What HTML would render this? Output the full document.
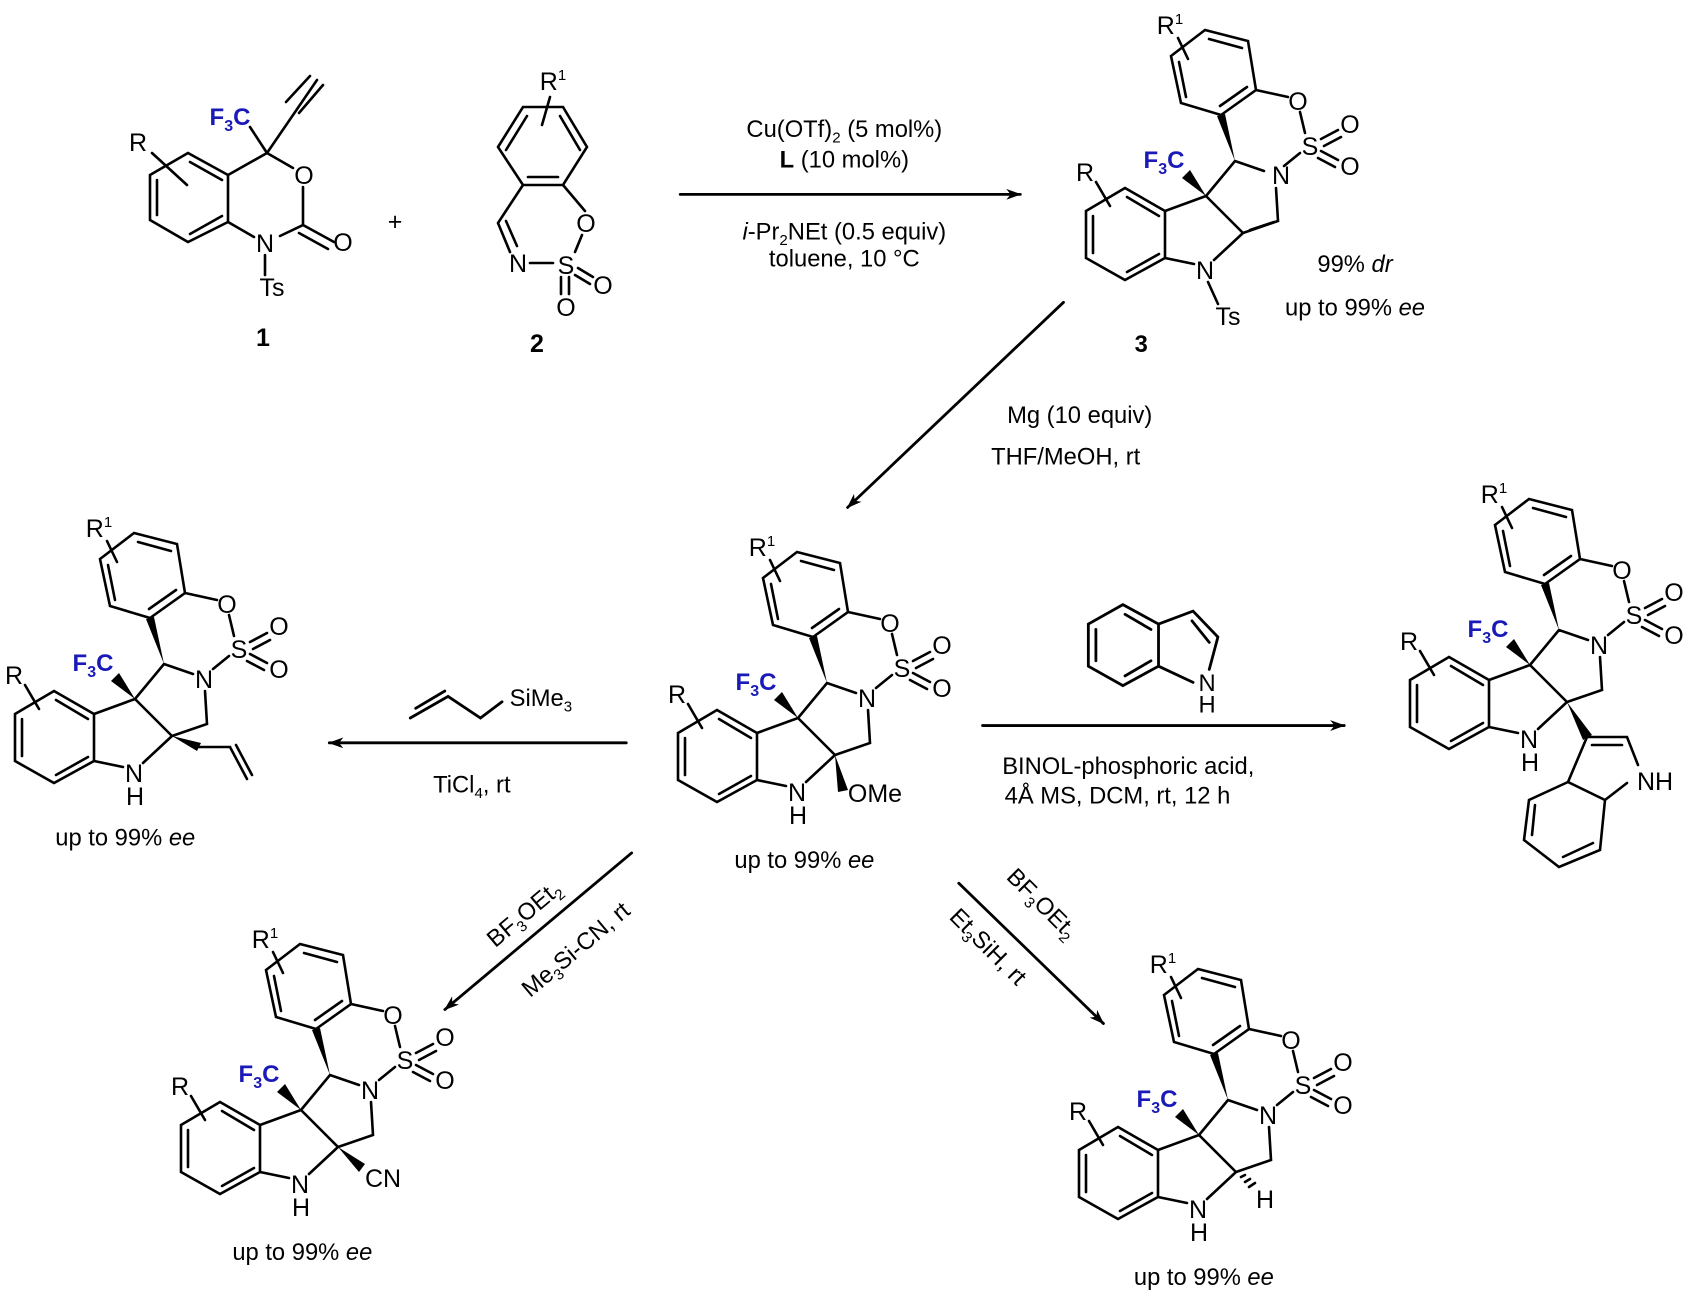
<!DOCTYPE html>
<html><head><meta charset="utf-8"><style>
html,body{margin:0;padding:0;background:#fff;}
svg{display:block;font-family:"Liberation Sans",Arial,sans-serif;}
.b{stroke:#000;stroke-width:2.6;fill:none;stroke-linecap:round;}
.l{font-size:25px;fill:#000;text-anchor:middle;}
.f{font-size:24px;fill:#1a1ab8;font-weight:bold;text-anchor:middle;}
.t{font-size:22px;fill:#000;text-anchor:middle;}
</style></head><body>
<svg width="1693" height="1301" viewBox="0 0 1693 1301" xmlns="http://www.w3.org/2000/svg">
<defs>
<marker id="ah" markerWidth="14" markerHeight="10" refX="13" refY="5" orient="auto" markerUnits="userSpaceOnUse">
<path d="M0,0 L14,5 L0,10 L4,5 Z" fill="#000"/></marker>
<g id="core">
<path class="b" d="M-81,-8 L-41,15 L-41,62 L-81,84 L-120,62 L-120,15 Z"/>
<path class="b" d="M-79,1 L-47,20 M-113,20 L-113,57 M-79,76 L-47,58"/>
<path class="b" d="M0,0 L-41,15 M-41,62 L-12,68 M8,64 L37,37 M0,0 L37,37 M37,37 L72,25 L70,-8 M58,-25 L29,-35 L0,0"/>
<polygon points="29,-35 11,-80 19,-82" fill="#000"/>
<path class="b" d="M-1,-166 L42,-155 L50,-106 L15,-81 L-25,-93 L-35,-140 Z"/>
<path class="b" d="M3,-157 L36,-148 M-27,-134 L-20,-99 M14,-90 L41,-109"/>
<path class="b" d="M50,-106 L82,-99 M94,-84 L99,-63 M94,-43 L78,-30 M115,-57 L132,-66 M118,-50 L135,-59 M115,-45 L132,-36 M112,-38 L129,-29"/>
<polygon points="0,0 -24,-18 -16,-26" fill="#000"/>
<path class="b" d="M-110,-14 L-96,10 M-28,-158 L-18,-137"/>
</g>
</defs>

<!-- compound 1 -->
<g>
<path class="b" d="M188,153 L228,175 L228,222 L188,242 L150,220 L150,175 Z M190,162 L222,180 M157,180 L157,215 M190,234 L222,216"/>
<path class="b" d="M267,153 L228,175 M267,153 L250,127 M267,153 L293,168 M303,187 L303,225 L280,236 M228,222 L254,237 M303,225 L334,242 M299,233 L328,249 M265,255 L265,275 M267,153 L317,80 M299,113 L323,85 M286,102 L310,76 M152,153 L187,185"/>
<text class="f" x="230" y="125">F<tspan font-size="16" dy="6">3</tspan><tspan dy="-6">C</tspan></text>
<text class="l" x="138" y="151">R</text>
<text class="l" x="304" y="184">O</text>
<text class="l" x="343" y="251">O</text>
<text class="l" x="265" y="252">N</text>
<text class="l" x="272" y="296">Ts</text>
<text class="l" x="263" y="346" font-weight="bold">1</text>
<text class="l" x="395" y="230">+</text>
</g>
<!-- compound 2 -->
<g>
<path class="b" d="M523,107 L563,107 L587,147 L563,185 L523,185 L498,147 Z M527,116 L506,150 M560,116 L580,150 M528,177 L558,177 M550,97 L542,125"/>
<path class="b" d="M523,185 L498,223 L510,252 M506,221 L517,246 M530,263 L553,263 M575,252 L582,235 M585,211 L563,185 M578,268 L593,277 M575,275 L590,284 M561,277 L561,294 M569,277 L569,294"/>
<text class="l" x="553" y="90">R<tspan font-size="15" dy="-10">1</tspan></text>
<text class="l" x="586" y="232">O</text>
<text class="l" x="518" y="272">N</text>
<text class="l" x="566" y="274">S</text>
<text class="l" x="603" y="294">O</text>
<text class="l" x="566" y="316">O</text>
<text class="l" x="537" y="352" font-weight="bold">2</text>
</g>

<!-- arrows and reagents (displayed coords scaled) -->
<g transform="scale(1.0797)">
<line class="b" x1="630" y1="180" x2="945" y2="180" marker-end="url(#ah)" stroke-width="2.2"/>
<line class="b" x1="985" y1="280" x2="785" y2="470" marker-end="url(#ah)" stroke-width="2.2"/>
<line class="b" x1="580" y1="688" x2="305" y2="688" marker-end="url(#ah)" stroke-width="2.2"/>
<line class="b" x1="910" y1="672" x2="1245" y2="672" marker-end="url(#ah)" stroke-width="2.2"/>
<line class="b" x1="585" y1="790" x2="412" y2="935" marker-end="url(#ah)" stroke-width="2.2"/>
<line class="b" x1="888" y1="818" x2="1022" y2="948" marker-end="url(#ah)" stroke-width="2.2"/>
<text class="t" x="782" y="127">Cu(OTf)<tspan font-size="14" dy="5">2</tspan><tspan dy="-5"> (5 mol%)</tspan></text>
<text class="t" x="782" y="155"><tspan font-weight="bold">L</tspan> (10 mol%)</text>
<text class="t" x="782" y="222"><tspan font-style="italic">i</tspan>-Pr<tspan font-size="14" dy="5">2</tspan><tspan dy="-5">NEt (0.5 equiv)</tspan></text>
<text class="t" x="782" y="247">toluene, 10 °C</text>
<text class="t" x="1255" y="252">99% <tspan font-style="italic">dr</tspan></text>
<text class="t" x="1255" y="292">up to 99% <tspan font-style="italic">ee</tspan></text>
<text class="t" x="1057" y="326" font-weight="bold">3</text>
<text class="t" x="1000" y="392">Mg (10 equiv)</text>
<text class="t" x="987" y="430">THF/MeOH, rt</text>
<text class="t" x="501" y="654">SiMe<tspan font-size="14" dy="5">3</tspan></text>
<path class="b" d="M380,665 L415,645 L445,665 L465,650 M385,656 L412,640" stroke-width="2.2"/>
<text class="t" x="437" y="734">TiCl<tspan font-size="14" dy="5">4</tspan><tspan dy="-5">, rt</tspan></text>
<text class="t" x="116" y="783">up to 99% <tspan font-style="italic">ee</tspan></text>
<text class="t" x="745" y="804">up to 99% <tspan font-style="italic">ee</tspan></text>
<text class="t" x="280" y="1167">up to 99% <tspan font-style="italic">ee</tspan></text>
<text class="t" x="1115" y="1190">up to 99% <tspan font-style="italic">ee</tspan></text>
<text class="t" x="1045" y="717">BINOL-phosphoric acid,</text>
<text class="t" x="1035" y="744">4Å MS, DCM, rt, 12 h</text>
<path class="b" d="M1040,560 L1073,578 L1073,617 L1040,635 L1008,617 L1008,578 Z M1042,569 L1066,583 M1015,583 L1015,612 M1042,626 L1066,612 M1073,578 L1105,566 L1128,590 L1120,620 M1104,575 L1120,595 M1073,617 L1105,632" stroke-width="2.2"/>
<text class="t" x="1118" y="640">N</text>
<text class="t" x="1118" y="660">H</text>
<text class="t" transform="translate(490,852) rotate(-40)">BF<tspan font-size="14" dy="5">3</tspan><tspan dy="-5">OEt</tspan><tspan font-size="14" dy="5">2</tspan></text>
<text class="t" transform="translate(538,885) rotate(-40)">Me<tspan font-size="14" dy="5">3</tspan><tspan dy="-5">Si-CN, rt</tspan></text>
<text class="t" transform="translate(960,842) rotate(45)">BF<tspan font-size="14" dy="5">3</tspan><tspan dy="-5">OEt</tspan><tspan font-size="14" dy="5">2</tspan></text>
<text class="t" transform="translate(910,882) rotate(45)">Et<tspan font-size="14" dy="5">3</tspan><tspan dy="-5">SiH, rt</tspan></text>
</g>

<!-- product 3 -->
<g transform="translate(1206,196)">
<use href="#core"/>
<path class="b" d="M44,34 L68,26"/>
<text class="l" x="75" y="-12">N</text><text class="l" x="104" y="-41">S</text>
<text class="l" x="92" y="-86">O</text><text class="l" x="144" y="-63">O</text><text class="l" x="144" y="-21">O</text>
<text class="f" x="-42" y="-28">F<tspan font-size="16" dy="6">3</tspan><tspan dy="-6">C</tspan></text>
<text class="l" x="-121" y="-15">R</text>
<text class="l" x="-36" y="-162">R<tspan font-size="15" dy="-10">1</tspan></text>
<text class="l" x="-1" y="83">N</text>
<path class="b" d="M2,86 L12,108"/>
<text class="l" x="22" y="129">Ts</text>
</g>
<!-- central -->
<g transform="translate(798,718)">
<use href="#core"/>
<polygon points="37,37 40,74 50,72" fill="#000"/>
<text class="l" x="77" y="84">OMe</text>
<text class="l" x="69" y="-11">N</text><text class="l" x="104" y="-41">S</text>
<text class="l" x="92" y="-86">O</text><text class="l" x="144" y="-64">O</text><text class="l" x="144" y="-21">O</text>
<text class="f" x="-42" y="-28">F<tspan font-size="16" dy="6">3</tspan><tspan dy="-6">C</tspan></text>
<text class="l" x="-121" y="-15">R</text>
<text class="l" x="-36" y="-162">R<tspan font-size="15" dy="-10">1</tspan></text>
<text class="l" x="-1" y="83">N</text><text class="l" x="0" y="106">H</text>
</g>
<!-- left allyl -->
<g transform="translate(135,699)">
<use href="#core"/>
<polygon points="37,37 62,52 66,44" fill="#000"/>
<path class="b" d="M64,48 L95,48 L112,80 M101,46 L117,76"/>
<text class="l" x="69" y="-11">N</text><text class="l" x="104" y="-41">S</text>
<text class="l" x="92" y="-86">O</text><text class="l" x="144" y="-64">O</text><text class="l" x="144" y="-21">O</text>
<text class="f" x="-42" y="-28">F<tspan font-size="16" dy="6">3</tspan><tspan dy="-6">C</tspan></text>
<text class="l" x="-121" y="-15">R</text>
<text class="l" x="-36" y="-162">R<tspan font-size="15" dy="-10">1</tspan></text>
<text class="l" x="-1" y="83">N</text><text class="l" x="0" y="106">H</text>
</g>
<!-- right indolyl -->
<g transform="translate(1530,665)">
<use href="#core"/>
<polygon points="37,37 53,75 62,70" fill="#000"/>
<path class="b" d="M57,72 L97,72 L108,100 M62,80 L92,80 M57,72 L38,117 L75,135 L97,118 M38,117 L-1,135 L-6,175 L29,202 L70,185 L75,135 M5,140 L2,170 M33,192 L63,178"/>
<text class="l" x="125" y="125">NH</text>
<text class="l" x="69" y="-11">N</text><text class="l" x="104" y="-41">S</text>
<text class="l" x="92" y="-86">O</text><text class="l" x="144" y="-64">O</text><text class="l" x="144" y="-21">O</text>
<text class="f" x="-42" y="-28">F<tspan font-size="16" dy="6">3</tspan><tspan dy="-6">C</tspan></text>
<text class="l" x="-121" y="-15">R</text>
<text class="l" x="-36" y="-162">R<tspan font-size="15" dy="-10">1</tspan></text>
<text class="l" x="-1" y="83">N</text><text class="l" x="0" y="106">H</text>
</g>
<!-- bottom-left CN -->
<g transform="translate(301,1110)">
<use href="#core"/>
<polygon points="37,37 58,62 64,54" fill="#000"/>
<text class="l" x="82" y="77">CN</text>
<text class="l" x="69" y="-11">N</text><text class="l" x="104" y="-41">S</text>
<text class="l" x="92" y="-86">O</text><text class="l" x="144" y="-64">O</text><text class="l" x="144" y="-21">O</text>
<text class="f" x="-42" y="-28">F<tspan font-size="16" dy="6">3</tspan><tspan dy="-6">C</tspan></text>
<text class="l" x="-121" y="-15">R</text>
<text class="l" x="-36" y="-162">R<tspan font-size="15" dy="-10">1</tspan></text>
<text class="l" x="-1" y="83">N</text><text class="l" x="0" y="106">H</text>
</g>
<!-- bottom-right H -->
<g transform="translate(1199,1135)">
<use href="#core"/>
<path class="b" d="M42,42 L46,40 M46,47 L51,44 M50,52 L56,48" stroke-width="2"/>
<text class="l" x="66" y="73">H</text>
<text class="l" x="69" y="-11">N</text><text class="l" x="104" y="-41">S</text>
<text class="l" x="92" y="-86">O</text><text class="l" x="144" y="-64">O</text><text class="l" x="144" y="-21">O</text>
<text class="f" x="-42" y="-28">F<tspan font-size="16" dy="6">3</tspan><tspan dy="-6">C</tspan></text>
<text class="l" x="-121" y="-15">R</text>
<text class="l" x="-36" y="-162">R<tspan font-size="15" dy="-10">1</tspan></text>
<text class="l" x="-1" y="83">N</text><text class="l" x="0" y="106">H</text>
</g>
</svg>
</body></html>
